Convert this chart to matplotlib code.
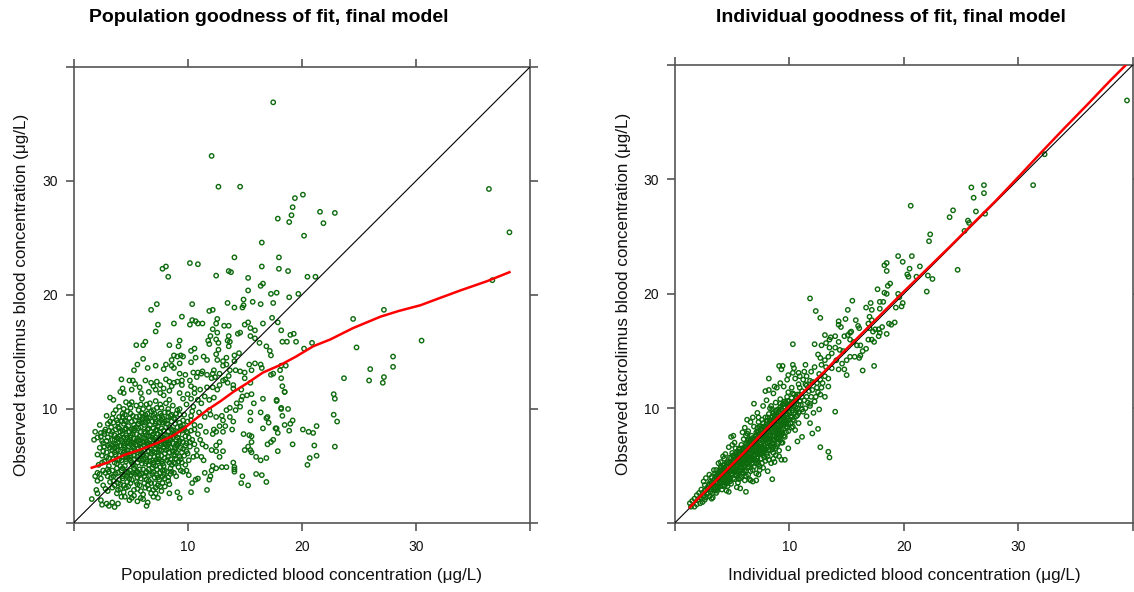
import matplotlib
matplotlib.use('Agg')
import matplotlib.pyplot as plt

# population predictions vs observed concentrations (ug/L)
pop_pred = [
    17.5, 12.1, 12.7, 14.6, 36.4, 38.2, 36.7, 20.1, 19.4, 19.2,
    19.1, 18.9, 17.9, 21.6, 22.9, 21.9, 20.2, 16.5, 14.1, 18.0,
    10.2, 10.9, 7.8, 8.1, 8.3, 12.5, 13.6, 13.8, 15.3, 18.0,
    18.8, 20.5, 21.2, 16.5, 16.4, 16.6, 15.3, 17.3, 17.8, 19.7,
    18.9, 14.9, 15.7, 16.4, 17.5, 13.5, 14.1, 14.8, 14.9, 10.4,
    7.3, 6.8, 11.9, 12.2, 9.5, 8.8, 7.4, 7.2, 10.2, 10.7,
    10.9, 11.3, 10.4, 12.6, 12.5, 13.2, 13.6, 12.2, 15.3, 15.0,
    15.5, 15.9, 16.6, 17.4, 17.9, 18.2, 19.0, 19.3, 19.5, 20.9,
    20.2, 24.5, 27.2, 30.5, 24.8, 28.0, 28.0, 26.0, 25.9, 23.7,
    27.2, 27.1, 22.8, 22.9, 22.8, 23.1, 22.9, 21.3, 21.1, 20.6,
    21.0, 20.1, 20.7, 20.5, 21.3, 19.2, 18.9, 18.8, 18.2, 18.3,
    19.2, 18.5, 17.8, 17.9, 16.9, 16.9, 16.0, 16.4, 17.0, 17.3,
    17.5, 17.7, 16.6, 16.9, 16.4, 1.6, 2.5, 3.2, 4.2, 5.5,
    6.1, 6.3, 6.1, 5.6, 5.3, 6.5, 7.2, 8.4, 9.2, 9.3,
    8.8, 8.6, 18.3, 18.7, 11.8, 12.5, 12.7, 13.6, 13.7, 14.4,
    14.6, 15.5, 15.9, 16.3, 16.9, 17.2, 17.3, 10.3, 10.6, 9.6,
    10.3, 11.4, 11.7, 12.7, 12.5, 12.6, 13.1, 13.4, 13.4, 14.1,
    14.5, 14.1, 14.2, 14.6, 15.0, 15.4, 15.9, 16.4, 15.6, 16.5,
    17.3, 18.2, 18.1, 18.6, 18.2, 18.3, 18.5, 17.5, 9.3, 9.8,
    10.5, 10.9, 11.2, 9.5, 10.2, 10.8, 11.7, 12.1, 12.8, 12.3,
    13.1, 12.8, 13.1, 12.2, 11.7, 13.5, 14.0, 14.0, 15.0, 15.5,
    14.7, 14.8, 15.2, 15.6, 13.6, 13.7, 16.6, 17.8, 15.8, 15.5,
    15.5, 17.0, 17.1, 18.2, 18.5, 17.8, 17.9, 19.0, 15.6, 15.6,
    15.3, 15.5, 15.0, 15.6, 15.4, 14.9, 16.0, 16.5, 15.3, 14.7,
    14.0, 14.1, 14.1, 13.4, 13.0, 12.5, 12.2, 12.0, 11.9, 11.7,
    11.5, 10.3, 10.7, 10.4, 10.1, 9.9, 12.8, 13.1, 12.5, 12.1,
    11.2, 10.8, 11.4, 11.6, 11.3, 10.6, 11.1, 12.5, 13.1, 13.3,
    12.8, 12.3, 12.2, 13.1, 13.0, 12.5, 12.0, 11.9, 13.4, 13.7,
    14.2, 14.6, 14.3, 14.7, 13.7, 14.0, 13.9, 11.1, 10.6, 10.3,
    10.5, 10.9, 11.5, 11.9, 11.2, 11.0, 11.5, 10.0, 10.3, 10.6,
    10.7, 11.9, 12.6, 12.0, 13.5, 13.6, 9.1, 9.4, 9.3, 8.8,
    8.6, 8.1, 7.9, 5.2, 5.4, 4.9, 6.3, 6.8, 7.3, 7.6,
    8.1, 8.4, 8.8, 9.1, 11.3, 12.2, 12.4, 13.3, 5.1, 5.9,
    6.6, 7.2, 7.6, 7.9, 8.4, 8.6, 10.3, 11.1, 12.6, 4.1,
    4.4, 4.6, 3.7, 3.5, 3.2, 2.4, 2.8, 2.1, 2.1, 2.1,
    2.4, 2.9, 3.1, 3.4, 3.6, 3.9, 5.6, 5.9, 6.5, 6.4,
    7.0, 6.8, 7.6, 7.8, 8.4, 9.1, 9.3, 8.4, 8.8, 8.2,
    10.9, 12.1, 5.1, 4.2, 3.8, 2.8, 2.1, 14.8, 14.1, 12.5,
    2.0, 2.6, 3.0, 3.4, 3.9, 4.4, 4.8, 5.3, 5.9, 6.3,
    7.0, 7.4, 4.1, 5.6, 6.8, 3.2, 12.8, 1.9, 2.4, 2.8,
    3.3, 3.7, 4.0, 4.5, 4.9, 5.2, 5.6, 6.0, 6.4, 6.7,
    7.1, 7.6, 8.0, 8.5, 9.0, 9.6, 3.0, 4.3, 5.8, 7.3,
    9.2, 2.2, 2.7, 3.1, 3.5, 3.8, 4.2, 4.5, 4.8, 5.1,
    5.4, 5.7, 6.0, 6.3, 6.6, 6.9, 7.2, 7.5, 7.8, 8.2,
    8.6, 9.0, 9.5, 10.1, 2.5, 3.3, 4.0, 4.6, 5.3, 6.1,
    6.8, 7.4, 8.0, 8.8, 9.3, 2.6, 3.0, 3.4, 3.8, 4.1,
    4.4, 4.7, 5.0, 5.3, 5.6, 5.9, 6.2, 6.5, 6.8, 7.1,
    7.4, 7.7, 8.0, 8.3, 8.7, 9.1, 9.6, 10.2, 10.8, 4.9,
    1.8, 2.4, 2.9, 3.3, 3.6, 4.0, 4.3, 4.6, 4.9, 5.2,
    5.5, 5.8, 6.1, 6.4, 6.7, 7.0, 7.3, 7.6, 7.9, 8.2,
    8.5, 8.9, 9.3, 9.8, 10.4, 10.9, 3.1, 4.5, 5.9, 7.2,
    8.6, 9.9, 2.3, 1.9, 3.5, 3.9, 4.2, 4.8, 5.1, 5.5,
    6.2, 6.6, 6.9, 7.4, 7.8, 8.1, 8.9, 9.4, 10.0, 10.6,
    11.6, 6.0, 7.1, 2.9, 4.3, 4.7, 5.2, 5.7, 6.3, 6.8,
    7.5, 8.0, 8.5, 9.1, 9.7, 10.4, 4.0, 5.5, 7.3, 8.7,
    9.9, 3.5, 5.1, 6.0, 6.7, 7.2, 7.9, 8.4, 9.3, 9.6,
    12.3, 4.3, 5.8, 7.0, 9.5, 10.6, 4.2, 5.0, 6.6, 7.8,
    4.1, 4.6, 5.0, 5.6, 6.1, 6.6, 7.2, 7.7,
    3.5, 3.9, 4.3, 4.7, 5.1, 5.5, 5.9, 6.2, 6.6, 7.1, 7.5, 8.3,
    3.4, 3.8, 4.6, 5.3, 5.6, 6.1, 6.4, 6.9, 7.6, 8.0, 8.5, 9.4, 2.6,
    2.9, 3.7, 4.3, 5.0, 5.6, 5.9, 6.4, 7.1, 7.7, 8.3, 9.7, 10.5,
    2.3, 3.2, 3.6, 4.5, 5.2, 5.7, 6.4, 7.2, 7.9, 8.5, 9.4, 9.9,
    2.6, 3.2, 3.9, 4.7, 5.3, 5.9, 6.4, 7.0, 7.6, 8.1, 8.7, 9.2, 9.9,
    2.1, 3.0, 3.9, 4.4, 5.0, 5.6, 6.2, 6.9, 7.5, 8.0, 8.7, 9.5, 10.1,
    2.7, 3.4, 4.1, 4.9, 5.3, 6.2, 6.8, 7.6, 8.3, 9.0, 9.5, 10.3,
    3.8, 4.5, 5.4, 5.8, 6.5, 7.2, 7.7, 8.2, 8.9, 9.6, 10.3,
    4.4, 5.0, 6.1, 6.6, 7.0, 7.7, 8.3, 9.3,
    2.5, 3.6, 4.6, 5.6, 6.4, 7.0, 7.7, 8.4, 8.9, 9.8,
    2.3, 3.0, 3.5, 4.3, 5.0, 5.4, 6.2, 7.3, 7.8, 8.3,
    4.5, 4.9, 5.3, 6.1, 7.4,
    3.6, 4.4, 5.0, 5.8, 6.5, 7.2, 8.0,
    3.1, 3.9, 4.8, 5.5, 6.3, 7.0, 7.9, 8.6,
    3.1, 4.0, 4.6, 5.3, 6.1, 6.7, 7.4, 8.0, 8.9, 9.4,
    2.9, 3.6, 4.5, 5.1, 5.8, 6.6, 7.3, 8.4, 9.0, 10.0,
    2.7, 3.4, 4.1, 4.8, 5.5, 6.2, 6.9, 7.6, 8.3, 8.9, 9.8,
    2.5, 3.4, 4.2, 4.8, 5.7, 6.4, 7.1, 7.8, 8.4, 9.0, 10.2,
    2.7, 3.6, 4.3, 5.0, 5.5, 6.3, 6.9, 7.4, 8.0, 8.6, 9.2, 10.0,
    3.3, 4.0, 4.6, 5.3, 5.9, 7.0, 7.7, 8.4, 9.1, 9.7,
    3.0, 4.4, 5.7, 6.3, 7.2, 8.2, 9.3,
    3.4, 4.0, 4.9, 5.5, 6.1, 6.6, 7.8, 8.3, 8.8,
    4.3, 5.0, 6.0, 6.5, 7.1, 7.6, 8.3, 9.0,
    4.9, 5.9, 6.4, 7.6, 8.1,
    4.7, 5.8, 6.9, 7.4,
    4.1, 5.2, 6.3, 7.0, 7.9, 8.8,
    3.9, 4.6, 5.0, 5.9, 6.7, 7.3, 8.5, 9.2,
    3.9, 4.4, 5.4, 6.0, 6.9, 7.5, 8.1, 8.9, 9.5,
    3.7, 4.5, 5.1, 5.8, 6.6, 7.3, 8.4, 9.0, 9.6,
    3.8, 4.7, 5.3, 6.0, 6.6, 7.2, 7.8, 8.5, 9.1,
    3.7, 4.3, 5.1, 5.7, 6.5, 7.3, 7.9, 8.8, 9.4,
    3.9, 4.6, 5.3, 6.0, 6.7, 7.5, 8.0, 8.6, 9.6,
    4.5, 5.8, 6.4, 7.0, 7.7, 8.6, 9.3,
]
pop_obs = [
    36.9, 32.2, 29.5, 29.5, 29.3, 25.5, 21.3, 28.8, 28.5, 27.7,
    27.0, 26.4, 26.7, 27.3, 27.2, 26.3, 25.2, 24.6, 23.3, 23.3,
    22.8, 22.7, 22.3, 22.5, 21.6, 21.7, 22.1, 22.0, 21.5, 22.3,
    22.1, 21.6, 21.6, 22.5, 20.8, 21.0, 20.4, 20.1, 20.2, 20.1,
    19.8, 19.6, 19.4, 19.2, 19.3, 19.3, 18.9, 18.9, 19.1, 19.2,
    19.2, 18.7, 18.6, 18.7, 18.1, 17.5, 17.4, 16.8, 17.4, 17.7,
    17.5, 17.5, 17.8, 17.9, 17.5, 17.3, 17.3, 17.0, 17.6, 17.4,
    17.1, 16.9, 17.5, 18.0, 17.6, 16.9, 16.5, 16.6, 15.9, 15.8,
    15.3, 17.9, 18.7, 16.0, 15.4, 14.6, 13.7, 13.5, 12.5, 12.7,
    12.8, 12.3, 11.3, 10.9, 9.5, 8.9, 6.7, 8.5, 6.8, 8.0,
    7.9, 8.2, 5.7, 5.1, 5.9, 9.0, 8.1, 10.0, 10.1, 9.4,
    6.9, 11.5, 10.8, 6.3, 5.7, 3.6, 4.3, 5.5, 6.9, 7.1,
    7.3, 8.3, 8.3, 9.2, 9.7, 2.1, 1.6, 11.0, 12.6, 15.6,
    15.6, 15.9, 14.4, 13.9, 13.4, 13.6, 13.8, 15.6, 15.5, 16.0,
    14.7, 14.3, 15.9, 15.9, 16.0, 16.1, 15.8, 16.4, 15.9, 16.6,
    16.7, 16.4, 16.2, 15.8, 15.5, 15.1, 14.7, 15.1, 15.3, 14.6,
    14.1, 14.6, 14.3, 15.2, 14.8, 14.3, 14.2, 14.5, 13.9, 14.7,
    14.9, 14.2, 13.4, 13.3, 13.2, 13.9, 14.0, 13.9, 13.4, 13.6,
    13.0, 12.7, 13.4, 13.8, 13.8, 12.0, 11.5, 13.1, 13.1, 13.0,
    13.2, 13.2, 13.1, 12.5, 12.5, 12.8, 13.0, 12.7, 13.1, 13.4,
    13.8, 12.1, 12.5, 11.9, 11.9, 12.3, 12.1, 11.8, 12.7, 12.3,
    11.7, 11.1, 11.2, 11.3, 12.9, 13.4, 10.9, 10.7, 10.5, 9.7,
    9.0, 9.3, 8.8, 10.0, 8.6, 8.3, 7.9, 8.7, 7.6, 7.1,
    6.7, 6.4, 6.4, 6.2, 7.7, 7.8, 5.8, 4.2, 3.3, 3.5,
    5.3, 4.9, 4.5, 4.9, 4.9, 4.8, 5.0, 4.1, 3.8, 2.9,
    4.4, 2.7, 3.8, 3.5, 4.2, 4.6, 5.8, 6.3, 6.3, 6.4,
    5.8, 5.9, 5.5, 6.7, 6.9, 6.9, 7.3, 8.0, 8.0, 8.5,
    8.5, 8.2, 7.8, 9.0, 9.4, 9.3, 9.5, 9.9, 9.9, 10.1,
    9.9, 10.2, 10.5, 10.8, 9.3, 8.9, 8.2, 8.5, 8.2, 9.0,
    10.2, 10.8, 11.1, 10.8, 10.5, 9.7, 9.3, 11.3, 10.9, 11.4,
    14.5, 15.7, 16.7, 16.4, 16.0, 15.5, 14.6, 14.7, 14.0, 13.6,
    13.8, 13.9, 13.5, 12.5, 12.2, 12.5, 12.5, 12.3, 12.4, 12.1,
    12.6, 12.4, 12.3, 12.4, 13.3, 13.1, 12.8, 12.6, 11.7, 11.4,
    11.5, 11.7, 11.4, 11.8, 11.6, 12.0, 12.0, 11.7, 11.7, 11.5,
    11.4, 10.6, 9.9, 9.6, 8.9, 7.9, 8.2, 6.0, 4.4, 2.6,
    2.0, 1.7, 1.5, 1.8, 1.4, 1.7, 1.9, 2.2, 1.8, 1.5,
    2.3, 2.6, 3.2, 3.5, 2.6, 2.7, 2.2, 3.4, 4.4, 4.5,
    3.9, 4.6, 2.2, 2.3, 2.6, 3.0, 3.7, 4.1, 4.7, 6.8,
    2.9, 3.3, 2.8, 3.1, 2.9, 2.7, 3.2, 2.9, 2.8, 3.1,
    2.9, 3.3, 3.4, 3.4, 3.5, 3.6, 7.1, 4.1, 3.9, 4.4,
    4.0, 4.3, 3.8, 4.2, 3.9, 4.4, 4.0, 4.3, 3.8, 4.2,
    4.0, 4.4, 3.9, 4.3, 4.1, 4.5, 4.7, 4.8, 4.7, 4.7,
    4.9, 5.1, 5.4, 5.0, 5.6, 5.2, 5.5, 5.0, 5.7, 5.3,
    5.0, 5.6, 5.2, 5.7, 5.1, 5.5, 5.0, 5.6, 5.2, 5.5,
    5.1, 5.6, 5.3, 5.5, 5.9, 6.0, 5.9, 6.1, 5.9, 6.0,
    6.1, 5.9, 6.1, 6.0, 5.8, 6.3, 6.8, 6.4, 6.7, 6.3,
    6.8, 6.4, 6.9, 6.5, 6.2, 6.7, 6.4, 6.9, 6.5, 6.2,
    6.7, 6.4, 6.9, 6.5, 6.3, 6.8, 6.5, 6.7, 6.4, 6.1,
    7.3, 7.6, 7.2, 7.8, 7.3, 7.6, 7.1, 7.7, 7.3, 7.8,
    7.2, 7.6, 7.1, 7.7, 7.3, 7.8, 7.2, 7.6, 7.1, 7.7,
    7.3, 7.8, 7.2, 7.6, 7.3, 7.8, 8.1, 8.2, 8.0, 8.1,
    8.2, 8.0, 8.6, 8.0, 8.8, 8.4, 8.9, 8.5, 8.9, 8.4,
    8.6, 8.3, 8.9, 8.5, 8.8, 8.4, 8.7, 8.5, 8.9, 8.6,
    8.0, 9.1, 9.2, 9.4, 9.3, 9.8, 9.4, 9.9, 9.5, 9.8,
    9.3, 9.7, 9.4, 9.9, 9.5, 9.8, 10.2, 10.3, 10.1, 10.3,
    10.4, 10.8, 10.6, 10.9, 10.5, 10.7, 11.2, 10.8, 11.4, 10.9,
    11.0, 11.8, 11.9, 12.0, 12.1, 11.8, 4.6, 4.6, 4.7, 4.6,
    3.0, 3.1, 2.6, 3.0, 2.5, 3.0, 2.6, 2.8,
    3.7, 3.5, 3.9, 3.6, 3.8, 3.6, 3.9, 3.5, 3.7, 3.5, 3.8, 3.7,
    4.6, 4.8, 4.5, 4.8, 4.5, 4.7, 4.5, 4.8, 4.9, 4.6, 4.8, 4.6, 4.6,
    5.8, 6.0, 5.8, 5.9, 5.8, 6.0, 5.9, 5.8, 5.9, 5.8, 5.9, 5.8,
    6.6, 6.6, 6.6, 6.6, 6.7, 6.5, 6.6, 6.5, 6.6, 6.6, 6.6, 6.3,
    7.0, 6.9, 7.0, 7.0, 7.0, 7.0, 7.0, 7.0, 7.0, 7.0, 7.0, 7.0, 7.0,
    7.5, 7.5, 7.4, 7.5, 7.5, 7.4, 7.4, 7.5, 7.4, 7.4, 7.5, 7.4, 7.5,
    8.0, 8.0, 8.0, 8.0, 8.1, 8.0, 8.0, 8.0, 8.0, 8.0, 8.1, 8.1,
    9.0, 9.0, 9.0, 8.9, 9.0, 8.9, 9.0, 9.0, 9.1, 9.0, 9.4,
    10.0, 10.1, 10.0, 10.1, 9.9, 10.1, 10.0, 10.0,
    5.3, 5.3, 5.4, 5.3, 5.4, 5.3, 5.4, 5.3, 5.2, 5.1,
    4.3, 4.1, 4.1, 4.1, 4.2, 4.3, 4.1, 4.2, 4.1, 4.0,
    2.3, 2.0, 2.4, 2.1, 2.2,
    3.3, 3.3, 3.5, 3.3, 3.3, 3.1, 3.2,
    4.5, 4.4, 4.4, 4.4, 4.4, 4.5, 4.3, 4.5,
    5.7, 5.6, 5.8, 5.6, 5.6, 5.8, 5.4, 5.7, 5.9, 5.6,
    6.2, 6.2, 6.3, 6.3, 6.3, 6.3, 6.2, 6.2, 6.2, 6.1,
    6.7, 6.8, 6.8, 6.7, 6.9, 6.8, 6.8, 6.8, 6.9, 6.6, 6.8,
    7.2, 7.3, 7.3, 7.1, 7.2, 7.2, 7.3, 7.3, 7.1, 7.3, 7.1,
    7.8, 7.7, 7.8, 7.7, 7.8, 7.9, 7.7, 7.8, 7.7, 7.7, 7.8, 7.9,
    8.4, 8.3, 8.3, 8.3, 8.4, 8.3, 8.3, 8.4, 8.4, 8.3,
    8.7, 8.7, 8.7, 8.8, 8.7, 8.7, 8.8,
    9.2, 9.3, 9.2, 9.3, 9.3, 9.2, 9.2, 9.3, 9.2,
    9.6, 9.6, 9.6, 9.6, 9.6, 9.6, 9.7, 9.6,
    10.4, 10.4, 10.4, 10.4, 10.5,
    4.1, 4.2, 4.3, 4.0,
    5.0, 5.1, 5.2, 5.1, 5.0, 5.3,
    5.5, 5.6, 5.5, 5.5, 5.4, 5.6, 5.6, 5.4,
    6.4, 6.2, 6.3, 6.2, 6.3, 6.4, 6.4, 6.4, 6.2,
    6.9, 7.0, 7.1, 6.9, 7.0, 6.9, 7.0, 6.9, 7.1,
    7.5, 7.5, 7.4, 7.5, 7.6, 7.5, 7.5, 7.6, 7.5,
    8.2, 8.1, 8.2, 8.3, 8.2, 8.2, 8.1, 8.1, 8.2,
    8.8, 8.9, 8.6, 8.8, 8.6, 8.8, 8.9, 8.9, 8.6,
    9.5, 9.4, 9.2, 9.4, 9.4, 9.5, 9.5,
]

# individual predictions vs observed concentrations (ug/L)
ind_pred = [
    39.5, 32.3, 31.3, 27.0, 25.9, 27.0, 26.1, 26.3, 27.1, 20.6,
    24.0, 24.3, 25.6, 25.7, 25.3, 22.3, 22.2, 24.7, 19.5, 19.9,
    20.7, 21.4, 18.3, 18.5, 18.5, 20.3, 20.4, 20.5, 21.1, 22.1,
    22.5, 22.0, 18.8, 18.6, 17.7, 18.3, 18.2, 17.9, 19.6, 19.9,
    19.8, 19.3, 17.1, 17.0, 17.2, 11.8, 12.3, 12.7, 15.5, 15.1,
    14.9, 15.8, 16.0, 15.4, 14.3, 17.8, 17.9, 18.5, 18.7, 19.2,
    18.9, 16.9, 17.4, 16.7, 16.2, 16.4, 17.4, 13.1, 13.6, 14.0,
    10.3, 12.2, 9.1, 9.4, 10.3, 10.4, 11.4, 8.2, 6.9, 14.0,
    12.5, 12.0, 10.7, 12.7, 13.4, 13.5, 8.5, 6.2, 3.3, 18.5,
    19.5, 17.9, 17.2, 16.7, 14.3, 14.5, 16.1, 15.3, 16.9, 17.0,
    17.5, 18.1, 17.3, 17.8, 17.2, 16.2, 16.4, 13.5, 14.3, 14.8,
    15.1, 15.3, 15.6, 15.9, 12.8, 13.2, 13.5, 14.0, 14.4, 14.7,
    13.7, 13.4, 13.1, 12.7, 12.5, 12.8, 13.2, 13.7, 14.1, 14.6,
    15.0, 15.3, 15.7, 16.1, 15.0, 14.8, 14.3, 9.3, 13.4, 13.4,
    12.8, 12.4, 11.8, 11.5, 12.7, 13.1, 12.2, 11.8, 12.1, 12.6,
    8.9, 9.5, 10.2, 10.8, 11.2, 10.9, 10.5, 9.9, 10.3, 10.8,
    9.8, 9.2, 8.6, 8.0, 7.7, 8.3, 9.2, 9.8, 10.3, 11.1,
    11.5, 10.9, 10.3, 9.9, 9.2, 8.6, 8.0, 11.1, 10.6, 10.0,
    11.5, 11.8, 5.4, 5.7, 6.8, 6.4, 6.5, 9.6, 9.3, 9.1,
    8.6, 7.9, 8.8, 10.2, 10.3, 10.8, 11.4, 11.8, 4.3, 3.8,
    4.9, 5.1, 6.3, 6.6, 7.9, 8.2, 8.7, 11.3, 3.2, 4.7,
    7.3, 8.7, 9.9, 11.1, 1.3, 1.5, 1.9, 2.4, 2.5, 2.9,
    2.6, 2.5, 3.2, 4.2, 4.9, 6.6, 7.1, 7.4, 4.2, 3.5,
    1.4, 1.7, 1.7, 2.0, 2.2, 2.1, 2.3, 2.7, 1.9, 2.6,
    2.8, 3.0, 3.1, 3.2, 3.4, 3.5, 2.7, 3.0, 3.4, 3.6,
    3.7, 3.8, 3.8, 3.9, 4.0, 4.1, 4.1, 4.2, 4.3, 4.3,
    4.4, 4.5, 4.5, 4.0, 4.6, 4.6, 4.6, 4.8, 4.8, 4.9,
    5.0, 5.0, 5.1, 5.2, 5.2, 5.3, 5.3, 5.4, 5.4, 5.5,
    5.5, 4.7, 5.2, 5.6, 5.6, 5.7, 5.7, 5.8, 5.8, 5.9,
    6.0, 6.0, 6.0, 6.1, 6.1, 6.2, 6.2, 6.3, 6.3, 6.4,
    6.4, 6.5, 5.9, 6.1, 6.6, 6.6, 6.7, 6.7, 6.8, 6.8,
    6.9, 6.9, 7.0, 7.0, 7.1, 7.1, 7.2, 7.2, 7.3, 7.3,
    7.4, 7.5, 7.5, 7.5, 6.8, 7.2, 7.6, 7.6, 7.7, 7.7,
    7.8, 7.8, 7.9, 7.9, 8.0, 8.1, 8.1, 8.2, 8.2, 8.3,
    8.3, 8.4, 8.4, 8.5, 8.5, 8.1, 8.6, 8.6, 8.7, 8.8,
    8.8, 8.9, 8.9, 9.0, 9.0, 9.1, 9.1, 9.2, 9.3, 9.3,
    9.4, 9.4, 9.5, 9.5, 9.6, 9.7, 9.8, 9.9, 10.1, 10.2,
    10.5, 10.7, 11.5, 12.0, 12.5, 12.6, 12.9, 13.1, 12.2, 11.9,
    2.2, 2.4, 2.6, 2.8, 3.0, 2.9, 3.2, 3.1,
    3.3, 3.5, 3.6, 3.7, 3.9, 3.9, 4.0, 4.1, 3.6, 4.0,
    4.2, 4.3, 4.4, 4.5, 4.6, 4.7, 4.7, 4.8, 4.9, 4.9, 4.4, 5.0,
    5.1, 5.1, 5.2, 5.3, 5.3, 5.4, 5.4, 5.5, 5.5, 5.6, 5.6, 5.7,
    5.7, 5.8, 5.8, 5.9, 5.9, 5.0,
    6.0, 6.0, 6.1, 6.1, 6.2, 6.2, 6.3, 6.3, 6.4, 6.4, 6.5,
    6.5, 6.6, 6.6, 6.7, 6.7, 6.8, 6.8, 6.9, 6.9, 6.4, 6.2,
    7.0, 7.0, 7.1, 7.1, 7.2, 7.2, 7.3, 7.3, 7.4, 7.4, 7.5,
    7.5, 7.6, 7.6, 7.7, 7.7, 7.8, 7.8, 7.9, 7.9, 7.3, 7.6,
    8.0, 8.0, 8.1, 8.1, 8.2, 8.2, 8.3, 8.3, 8.4, 8.4, 8.5,
    8.5, 8.6, 8.6, 8.7, 8.7, 8.8, 8.8, 8.9, 8.9, 8.4,
    9.0, 9.0, 9.1, 9.1, 9.2, 9.2, 9.3, 9.3, 9.4, 9.4,
    9.5, 9.5, 9.6, 9.6, 9.7, 9.7, 9.8, 9.8, 9.9, 9.9,
    10.0, 10.1, 10.2, 10.3, 10.4, 10.5, 10.6, 10.7, 10.8, 10.9, 11.0,
    11.1, 11.2, 11.3, 11.4, 11.6, 11.7, 11.9, 12.0, 12.3, 12.4, 12.7,
    3.2, 3.4, 3.5, 3.7, 3.8, 4.0, 3.3, 3.6,
    4.1, 4.2, 4.3, 4.4, 4.5, 4.5, 4.6, 4.7, 4.8, 4.9, 4.3, 4.0,
    5.0, 5.1, 5.1, 5.2, 5.3, 5.4, 5.5, 5.5, 5.6, 5.7, 5.8, 5.9, 5.9, 5.3, 5.6,
    6.0, 6.0, 6.1, 6.1, 6.2, 6.3, 6.3, 6.4, 6.5, 6.5, 6.6, 6.6, 6.7, 6.7,
    6.8, 6.8, 6.9, 6.9,
    7.0, 7.0, 7.1, 7.1, 7.2, 7.2, 7.3, 7.3, 7.4, 7.4, 7.5, 7.5, 7.6, 7.6,
    7.7, 7.7, 7.8, 7.8, 7.9, 7.9,
    8.0, 8.0, 8.1, 8.1, 8.2, 8.2, 8.3, 8.3, 8.4, 8.4, 8.5, 8.5, 8.6, 8.6,
    8.7, 8.7, 8.8, 8.8, 8.9, 8.9,
    9.0, 9.0, 9.1, 9.1, 9.2, 9.2, 9.3, 9.3, 9.4, 9.4, 9.5, 9.5, 9.6, 9.7,
    9.7, 9.8, 9.9, 9.9,
    10.0, 10.1, 10.2, 10.3, 10.4, 10.5, 10.6, 10.7, 10.8, 10.9,
    3.4, 3.6, 3.8, 4.0, 4.2, 4.4, 4.6, 4.8, 5.0, 5.2, 5.4, 5.6, 5.8,
    6.0, 6.2, 6.4, 6.6, 6.8, 7.0, 7.2, 7.4, 7.6, 7.8, 8.0, 8.2, 8.4,
    8.6, 8.8, 9.0, 9.2, 9.4, 9.6, 9.8, 10.0, 10.2, 10.4, 10.6,
    3.5, 3.7, 3.9, 4.1, 4.3, 4.5, 4.7, 4.9, 5.1, 5.3, 5.5, 5.7,
    5.9, 6.1, 6.3, 6.5, 6.7, 6.9, 7.1, 7.3, 7.5, 7.7, 7.9, 8.1,
    8.3, 8.5, 8.7, 8.9, 9.1, 9.3, 9.5, 9.7, 9.9,
]
ind_obs = [
    36.9, 32.2, 29.5, 29.5, 29.3, 28.8, 28.4, 27.2, 27.0, 27.7,
    26.7, 27.3, 26.4, 26.2, 25.5, 25.2, 24.6, 22.1, 23.3, 22.8,
    23.3, 22.4, 22.5, 22.7, 22.0, 21.7, 21.5, 22.2, 21.5, 21.6,
    21.3, 20.2, 20.9, 20.7, 20.4, 20.1, 19.3, 18.7, 19.7, 19.2,
    18.9, 18.8, 19.2, 18.0, 17.7, 19.6, 18.5, 17.9, 19.4, 18.6,
    17.8, 17.7, 17.2, 16.7, 17.3, 16.9, 16.6, 16.5, 17.4, 17.5,
    17.3, 16.0, 15.8, 15.2, 14.6, 13.3, 13.7, 16.4, 16.2, 16.3,
    15.6, 15.6, 13.7, 13.7, 13.8, 13.5, 13.8, 12.6, 10.4, 9.7,
    8.2, 7.8, 7.1, 6.6, 6.2, 5.7, 3.8, 2.7, 2.2, 20.0,
    20.0, 19.3, 18.6, 18.8, 17.6, 17.1, 17.0, 16.6, 17.4, 17.0,
    16.9, 17.1, 16.7, 16.3, 16.0, 15.5, 15.0, 16.0, 15.8, 16.3,
    16.4, 16.0, 15.8, 15.5, 15.5, 15.7, 15.3, 15.3, 15.1, 15.0,
    14.8, 14.5, 14.2, 14.4, 14.7, 13.8, 13.6, 13.5, 14.2, 13.9,
    14.2, 14.5, 14.5, 14.4, 12.9, 13.4, 13.4, 13.4, 12.6, 11.9,
    11.8, 12.2, 12.4, 12.8, 11.2, 11.0, 10.6, 10.2, 9.6, 9.9,
    11.8, 11.9, 11.8, 12.1, 12.5, 12.8, 12.6, 12.9, 13.1, 13.1,
    12.5, 12.2, 11.3, 10.7, 10.2, 10.0, 10.4, 11.0, 11.3, 11.5,
    11.0, 10.6, 10.2, 9.7, 9.3, 9.0, 8.6, 9.9, 9.3, 9.0,
    9.3, 8.7, 3.1, 3.0, 3.6, 4.2, 3.8, 5.5, 5.5, 5.8,
    5.6, 6.4, 5.9, 8.3, 9.0, 9.6, 10.0, 10.4, 5.6, 5.2,
    7.5, 7.6, 9.0, 8.8, 11.5, 11.6, 11.9, 13.2, 2.1, 2.7,
    4.2, 5.3, 6.5, 7.5, 1.7, 1.9, 1.6, 1.8, 2.3, 2.6,
    3.3, 3.6, 4.0, 3.7, 3.4, 3.7, 3.7, 4.6, 5.8, 4.3,
    1.4, 1.4, 2.1, 2.0, 1.7, 2.6, 2.9, 2.2, 2.4, 2.8,
    3.0, 3.4, 2.7, 3.1, 3.7, 2.9, 3.9, 4.2, 4.6, 2.6,
    3.5, 4.0, 3.1, 4.5, 3.6, 2.9, 4.1, 5.0, 3.3, 4.4,
    3.8, 4.8, 2.8, 4.8, 5.3, 3.5, 4.2, 3.9, 4.6, 5.6,
    4.3, 6.1, 4.9, 3.8, 5.4, 4.5, 6.5, 4.1, 5.8, 5.0,
    3.5, 6.6, 7.0, 4.5, 6.2, 5.4, 3.9, 6.8, 4.9, 5.8,
    4.3, 6.4, 7.3, 5.2, 3.7, 5.9, 6.9, 4.8, 7.8, 5.5,
    6.4, 7.1, 7.9, 8.3, 5.9, 6.8, 5.1, 7.6, 4.6, 6.3,
    7.2, 8.4, 5.5, 6.8, 4.3, 7.9, 6.0, 7.4, 5.1, 8.8,
    6.5, 7.0, 5.6, 8.2, 9.2, 9.6, 6.1, 7.5, 4.8, 8.7,
    6.7, 7.9, 5.4, 9.2, 7.2, 8.3, 5.8, 7.6, 9.5, 6.8,
    8.9, 5.2, 7.9, 6.4, 9.9, 4.5, 7.2, 8.5, 9.4, 7.8,
    10.5, 6.7, 8.9, 7.4, 9.9, 8.2, 6.3, 10.8, 7.0, 8.6,
    9.8, 7.8, 8.9, 10.4, 7.5, 9.4, 8.3, 10.6, 8.7, 10.9,
    8.1, 11.2, 12.0, 11.6, 11.4, 13.0, 12.2, 12.8, 13.6, 13.2,
    2.2, 2.6, 2.0, 2.5, 2.3, 3.2, 2.9, 3.6,
    3.4, 3.1, 3.9, 2.8, 3.4, 4.2, 3.2, 3.9, 4.6, 5.3,
    4.3, 3.6, 4.6, 4.0, 3.2, 4.4, 4.9, 3.6, 4.2, 5.1, 6.0, 5.4,
    4.6, 3.9, 5.7, 4.2, 5.0, 4.7, 6.2, 4.3, 5.5, 3.8, 5.1, 4.6,
    6.0, 5.3, 4.0, 6.3, 4.6, 6.8,
    5.0, 5.6, 4.5, 6.1, 5.3, 4.1, 6.6, 5.8, 4.9, 7.3, 5.3,
    6.1, 4.5, 6.5, 5.6, 7.0, 5.2, 6.8, 5.9, 4.9, 8.0, 7.6,
    6.3, 7.5, 5.2, 6.6, 5.6, 8.3, 6.2, 7.7, 4.9, 7.3, 6.0,
    6.6, 5.2, 8.0, 6.4, 7.1, 5.7, 8.4, 6.9, 7.6, 9.2, 9.0,
    6.0, 7.8, 6.6, 8.9, 7.1, 5.5, 8.2, 6.3, 7.4, 9.2, 6.9,
    8.1, 6.1, 9.6, 7.6, 8.3, 6.5, 9.1, 7.3, 8.0, 10.2,
    8.5, 6.9, 7.8, 9.6, 8.8, 7.2, 9.9, 8.1, 7.0, 9.1,
    8.2, 9.6, 8.6, 10.1, 7.9, 8.9, 10.3, 9.2, 8.0, 11.4,
    9.6, 10.4, 9.2, 8.4, 10.6, 9.6, 11.0, 10.0, 8.7, 11.8, 10.3,
    11.0, 9.7, 10.7, 12.1, 10.5, 11.5, 11.0, 12.3, 11.0, 11.8, 12.5,
    3.5, 2.9, 4.0, 3.2, 3.8, 4.3, 2.6, 3.6,
    3.5, 4.5, 3.9, 4.3, 3.4, 5.2, 4.5, 3.8, 5.3, 4.8, 5.0, 4.6,
    4.7, 5.2, 5.8, 4.4, 5.6, 4.9, 6.0, 4.6, 5.7, 5.1, 5.6, 4.4, 5.4, 6.0, 6.5,
    5.4, 6.1, 6.6, 4.9, 5.6, 6.2, 5.1, 6.8, 5.7, 6.4, 5.5, 7.2, 6.0, 6.6,
    5.6, 7.4, 6.3, 6.9,
    5.9, 7.2, 6.3, 7.0, 6.8, 5.4, 6.6, 7.9, 6.1, 8.4, 6.8, 7.6, 6.6, 8.4,
    7.3, 5.9, 7.5, 6.2, 8.1, 7.3,
    7.5, 8.2, 7.0, 9.2, 8.0, 6.4, 7.3, 8.6, 6.7, 8.7, 7.6, 9.3, 7.9, 6.6,
    8.8, 7.2, 8.3, 9.8, 7.6, 9.4,
    8.1, 9.3, 8.6, 7.4, 8.5, 10.1, 9.0, 7.7, 8.6, 10.3, 9.3, 7.6, 9.0, 8.4,
    10.5, 9.5, 8.6, 10.1,
    10.0, 9.3, 10.5, 9.8, 8.9, 10.1, 10.7, 9.4, 10.3, 11.2,
    2.9, 4.1, 3.7, 4.9, 3.2, 4.6, 4.0, 5.7, 4.3, 5.4, 5.1, 6.4, 4.9,
    6.2, 6.0, 7.2, 5.7, 6.9, 6.9, 8.0, 6.5, 7.8, 7.6, 8.9, 7.3, 8.6,
    8.4, 9.8, 8.1, 9.5, 9.3, 10.6, 8.9, 10.3, 10.0, 11.2, 9.8,
    3.8, 3.0, 4.4, 3.8, 4.8, 3.6, 5.2, 4.5, 5.9, 4.7, 5.6, 4.5,
    6.5, 5.8, 6.9, 5.4, 7.3, 6.1, 7.6, 6.7, 8.1, 6.4, 8.4, 7.4,
    8.9, 7.0, 9.3, 8.2, 9.7, 7.9, 10.1, 8.7, 10.6,
]

# smoothed trend through each panel
pop_fit_x = [1.6, 3.0, 4.4, 5.9, 7.3, 8.8, 9.7, 10.6, 11.7, 12.9, 14.0, 15.2, 16.6,
             18.1, 19.5, 21.0, 22.5, 24.5, 26.9, 28.5, 30.4, 32.0, 33.9, 36.2, 38.2]
pop_fit_y = [4.85, 5.3, 5.95, 6.45, 7.0, 7.7, 8.3, 9.05, 9.9, 10.7, 11.5, 12.25, 13.2,
             13.85, 14.6, 15.5, 16.1, 17.1, 18.1, 18.6, 19.1, 19.7, 20.4, 21.2, 22.0]
ind_fit_x = [1.3, 2, 3, 4, 5, 6, 7, 8, 9, 10, 11, 12, 13, 14, 16, 18, 20, 22, 24,
             26, 28, 30, 32, 34, 36, 38, 39.4]
ind_fit_y = [1.35, 2.1, 3.1, 4.1, 5.1, 6.1, 7.15, 8.2, 9.2, 10.2, 11.2, 12.2, 13.15,
             14.2, 16.2, 18.2, 20.2, 22.15, 24.1, 26.1, 28.1, 30.2, 32.35, 34.45,
             36.5, 38.6, 40.0]

tick_vals = [0, 10, 20, 30, 40]
tick_text = ['', '10', '20', '30', '']

assert len(pop_pred) == len(pop_obs)
assert len(ind_pred) == len(ind_obs)

plt.rcParams['font.family'] = ['Liberation Sans', 'DejaVu Sans']

W, H = 1134, 592
fig = plt.figure(figsize=(W / 100, H / 100), dpi=100)
ax1 = fig.add_axes([73.5 / W, 69 / H, 456.5 / W, 456 / H])
ax2 = fig.add_axes([675 / W, 69.3 / H, 457.7 / W, 457.7 / H])


def draw_panel(ax, pred, obs, fit_x, fit_y, xlabel):
    ax.scatter(pred, obs, s=10, facecolors='none', edgecolors='#0d6a0d',
               linewidths=1.0, zorder=2)
    ax.plot([0, 40], [0, 40], color='black', lw=0.8, zorder=3)
    ax.plot(fit_x, fit_y, color='red', lw=1.8, zorder=4)
    ax.set_xlim(0, 40)
    ax.set_ylim(0, 40)
    ax.set_xticks(tick_vals)
    ax.set_xticklabels(tick_text)
    ax.set_yticks(tick_vals)
    ax.set_yticklabels(tick_text)
    ax.tick_params(direction='out', length=5.5, width=1.2, colors='#555555',
                   labelcolor='#111111', labelsize=10, top=True, right=True)
    ax.tick_params(axis='x', pad=7)
    ax.tick_params(axis='y', pad=6)
    for sp in ax.spines.values():
        sp.set_color('#555555')
        sp.set_linewidth(1.2)
    ax.set_xlabel(xlabel, fontsize=12.3, labelpad=10, color='#111111')
    ax.set_ylabel('Observed tacrolimus blood concentration (μg/L)', fontsize=12.3,
                  labelpad=9, color='#111111')


draw_panel(ax1, pop_pred, pop_obs, pop_fit_x, pop_fit_y,
           'Population predicted blood concentration (μg/L)')
draw_panel(ax2, ind_pred, ind_obs, ind_fit_x, ind_fit_y,
           'Individual predicted blood concentration (μg/L)')

fig.text(269 / W, 1 - 17 / H, 'Population goodness of fit, final model',
         ha='center', va='center', fontsize=14, fontweight='bold')
fig.text(891 / W, 1 - 17 / H, 'Individual goodness of fit, final model',
         ha='center', va='center', fontsize=14, fontweight='bold')

fig.savefig('out.png', dpi=100)
